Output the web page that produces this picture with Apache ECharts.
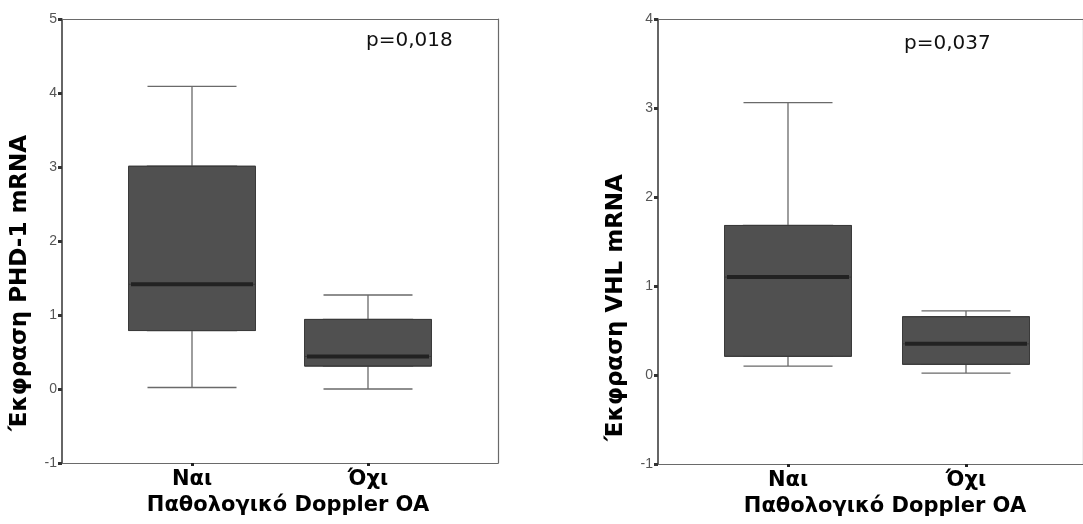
<!DOCTYPE html>
<html>
<head>
<meta charset="utf-8">
<script src="https://cdn.jsdelivr.net/npm/echarts@6/dist/echarts.min.js"></script>
<style>
  html, body { margin: 0; padding: 0; background: #fff; }
  #chart { width: 1083px; height: 524px; }
</style>
</head>
<body>
<div id="chart"></div>
<script>
// groups on the x axis
const categories = ['Ναι', 'Όχι']
// [min, Q1, median, Q3, max]
const phdStats = [[0.02, 0.79, 1.415, 3.01, 4.09], [0.0, 0.31, 0.44, 0.94, 1.27]]
const vhlStats = [[0.10, 0.21, 1.10, 1.68, 3.06], [0.02, 0.12, 0.35, 0.655, 0.72]]
const yNames = ['Έκφραση PHD-1 mRNA', 'Έκφραση VHL mRNA']
const xName = 'Παθολογικό Doppler OA'
const pValues = ['p=0,018', 'p=0,037']
const yRanges = [[-1, 5], [-1, 4]]

const FONT = 'DejaVu Sans'

// frame grid + inner grid for the boxes, one pair per panel
const panels = [
  { frame: { left: 62, top: 19, width: 436, height: 444 }, box: { left: 104, top: 19, width: 352, height: 444 }, stats: phdStats, namePad: 84 },
  { frame: { left: 658, top: 19, width: 438, height: 445 }, box: { left: 699, top: 19, width: 356, height: 445 }, stats: vhlStats, namePad: 132 }
]

const grid = []
const xAxis = []
const yAxis = []
const series = []

panels.forEach((p, i) => {
  const g = grid.length
  grid.push(p.frame, p.box)
  const [ymin, ymax] = yRanges[i]
  const lineOnly = (extra) => Object.assign({
    type: 'value', min: 0, max: 1, gridIndex: g,
    axisLine: { show: true, onZero: false, lineStyle: { color: '#6a6a6a', width: 1.2 } },
    axisTick: { show: false }, axisLabel: { show: false }, splitLine: { show: false }
  }, extra)
  const hiddenCat = () => ({ type: 'category', gridIndex: g + 1, data: categories, show: false })

  const xi = xAxis.length + 2
  xAxis.push(
    lineOnly({ position: 'bottom' }),
    lineOnly({ position: 'top' }),
    {
      type: 'category', gridIndex: g + 1, data: categories, position: 'bottom',
      axisLine: { show: false, onZero: false },
      axisTick: { show: true, alignWithLabel: true, length: 3, lineStyle: { color: '#222', width: 3 } },
      axisLabel: { margin: 6, fontFamily: FONT, fontWeight: 'bold', fontSize: 21, color: '#000' },
      splitLine: { show: false },
      name: xName, nameLocation: 'middle', nameGap: 31,
      nameTextStyle: { fontFamily: FONT, fontWeight: 'bold', fontSize: 21, color: '#000', padding: [0, 0, 0, 16] }
    },
    // separate base axes so the three box layers are not laid side by side
    hiddenCat(),
    hiddenCat()
  )

  const yi = yAxis.length + 2
  yAxis.push(
    {
      type: 'value', gridIndex: g, min: ymin, max: ymax, interval: 1, position: 'left',
      axisLine: { show: true, onZero: false, lineStyle: { color: '#333', width: 1.5 } },
      axisTick: { show: true, length: 4, lineStyle: { color: '#333', width: 3 } },
      axisLabel: { margin: 5, fontFamily: 'Liberation Sans', fontSize: 14, color: '#555' },
      splitLine: { show: false },
      name: yNames[i], nameLocation: 'middle', nameGap: 30,
      nameTextStyle: { fontFamily: FONT, fontWeight: 'bold', fontSize: 23, color: '#000', padding: [0, p.namePad, 0, 0] }
    },
    {
      type: 'value', gridIndex: g, min: ymin, max: ymax, position: 'right',
      axisLine: { show: true, onZero: false, lineStyle: { color: '#6a6a6a', width: 1.2 } },
      axisTick: { show: false }, axisLabel: { show: false }, splitLine: { show: false }
    },
    { type: 'value', gridIndex: g + 1, min: ymin, max: ymax, show: false }
  )

  // whiskers with narrow caps (box part hidden behind the body)
  series.push({
    type: 'boxplot', xAxisIndex: xi, yAxisIndex: yi, z: 2,
    boxWidth: [89, 89],
    itemStyle: { color: '#505050', borderColor: '#6a6a6a', borderWidth: 1.3 },
    data: p.stats
  })
  // body: Q1..Q3
  series.push({
    type: 'boxplot', xAxisIndex: xi + 1, yAxisIndex: yi, z: 3,
    boxWidth: [127, 127],
    itemStyle: { color: '#505050', borderColor: '#3a3a3a', borderWidth: 1 },
    data: p.stats.map(s => [s[1], s[1], s[2], s[3], s[3]])
  })
  // thick median line
  series.push({
    type: 'boxplot', xAxisIndex: xi + 2, yAxisIndex: yi, z: 4,
    boxWidth: [122, 122],
    itemStyle: { color: '#222', borderColor: '#222', borderWidth: 4 },
    data: p.stats.map(s => [s[2], s[2], s[2], s[2], s[2]])
  })
})

const chart = echarts.init(document.getElementById('chart'), null, { renderer: 'canvas' })
chart.setOption({
  animation: false,
  backgroundColor: '#fff',
  title: [
    { text: pValues[0], left: 366, top: 31, padding: 0, textStyle: { fontFamily: FONT, fontWeight: 'normal', fontSize: 20, color: '#111' } },
    { text: pValues[1], left: 904, top: 34, padding: 0, textStyle: { fontFamily: FONT, fontWeight: 'normal', fontSize: 20, color: '#111' } }
  ],
  tooltip: { show: false },
  grid,
  xAxis,
  yAxis,
  series
})
</script>
</body>
</html>
